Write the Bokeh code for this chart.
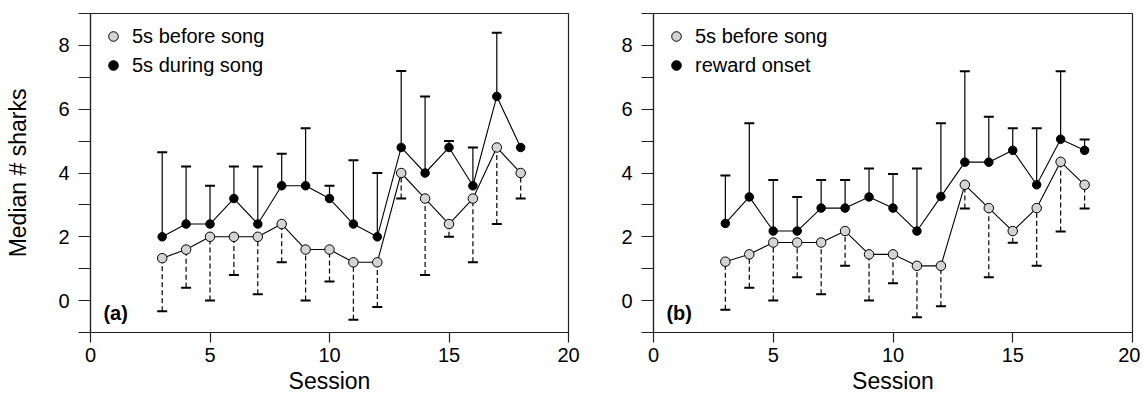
import numpy as np
from bokeh.plotting import figure
from bokeh.layouts import row
from bokeh.models import (ColumnDataSource, Whisker, TeeHead, FixedTicker, Legend,
                          LegendItem, Label, Range1d)
from bokeh.embed import file_html
from bokeh.resources import INLINE

# ---------------- data ----------------
sessions = [3, 4, 5, 6, 7, 8, 9, 10, 11, 12, 13, 14, 15, 16, 17, 18]

# panel (a)
a_before    = [1.33, 1.6, 2.0, 2.0, 2.0, 2.4, 1.6, 1.6, 1.2, 1.2, 4.0, 3.2, 2.4, 3.2, 4.8, 4.0]
a_before_lo = [-0.33, 0.4, 0.0, 0.8, 0.2, 1.2, 0.0, 0.6, -0.6, -0.2, 3.2, 0.8, 2.0, 1.2, 2.4, 3.2]
a_during    = [2.0, 2.4, 2.4, 3.2, 2.4, 3.6, 3.6, 3.2, 2.4, 2.0, 4.8, 4.0, 4.8, 3.6, 6.4, 4.8]
a_during_hi = [4.65, 4.2, 3.6, 4.2, 4.2, 4.6, 5.4, 3.6, 4.4, 4.0, 7.2, 6.4, 5.0, 4.8, 8.4, float("nan")]

# panel (b)
b_before    = [1.22, 1.45, 1.82, 1.82, 1.82, 2.18, 1.45, 1.45, 1.09, 1.09, 3.63, 2.9, 2.18, 2.9, 4.35, 3.63]
b_before_lo = [-0.29, 0.4, 0.0, 0.73, 0.2, 1.09, 0.0, 0.54, -0.52, -0.18, 2.89, 0.73, 1.81, 1.09, 2.17, 2.89]
b_reward    = [2.42, 3.25, 2.18, 2.18, 2.9, 2.9, 3.25, 2.9, 2.18, 3.26, 4.34, 4.34, 4.71, 3.63, 5.06, 4.71]
b_reward_hi = [3.92, 5.56, 3.78, 3.25, 3.78, 3.78, 4.14, 3.97, 4.14, 5.56, 7.19, 5.76, 5.4, 5.4, 7.19, 5.05]

x_ticks = [0, 5, 10, 15, 20]
y_ticks = [0, 2, 4, 6, 8]
y_minor = [-1, 1, 3, 5, 7, 9]

FONT = "Liberation Sans"
GRAY = "#d4d4d4"
DARK = "#222222"


def make_panel(before, before_lo, after, after_hi, label_before, label_after, tag,
               width, border_left, border_right, y_label):
    p = figure(width=width, height=398, output_backend="svg",
               toolbar_location=None, x_range=Range1d(0, 20), y_range=Range1d(-1, 9),
               min_border_left=border_left, min_border_right=border_right,
               min_border_top=13, min_border_bottom=66)
    p.xgrid.visible = False
    p.ygrid.visible = False
    p.outline_line_color = DARK
    p.outline_line_width = 1.2
    p.background_fill_color = "white"
    p.border_fill_color = "white"

    src_b = ColumnDataSource(dict(x=sessions, y=before, lo=before_lo))
    src_a = ColumnDataSource(dict(x=sessions, y=after, hi=np.array(after_hi, dtype=float)))

    wb = Whisker(source=src_b, base="x", lower="lo", upper="y", dimension="height",
                 line_color="black", line_width=1.2, line_dash="5 3",
                 upper_head=None,
                 lower_head=TeeHead(size=10, line_width=2, line_color="black"),
                 level="underlay")
    wa = Whisker(source=src_a, base="x", lower="y", upper="hi", dimension="height",
                 line_color="black", line_width=1.2,
                 lower_head=None,
                 upper_head=TeeHead(size=10, line_width=2, line_color="black"),
                 level="underlay")
    p.add_layout(wb)
    p.add_layout(wa)

    p.line("x", "y", source=src_b, line_color="black", line_width=1.1)
    p.line("x", "y", source=src_a, line_color="black", line_width=1.1)
    rb = p.scatter("x", "y", source=src_b, size=9.5, fill_color=GRAY,
                   line_color="black", line_width=1)
    ra = p.scatter("x", "y", source=src_a, size=8.5, fill_color="black",
                   line_color="black", line_width=1)

    legend = Legend(items=[LegendItem(label=label_before, renderers=[rb]),
                           LegendItem(label=label_after, renderers=[ra])],
                    location="top_left", margin=0, padding=11,
                    glyph_width=24, glyph_height=24, label_height=24,
                    label_standoff=7, spacing=5,
                    border_line_alpha=0, background_fill_alpha=0,
                    label_text_font=FONT, label_text_font_size="20px",
                    label_text_color="black")
    p.add_layout(legend)

    p.add_layout(Label(x=0.54, y=-0.375, text=tag, text_baseline="middle",
                       text_font=FONT, text_font_size="20px", text_font_style="bold",
                       text_color="black"))

    # axes
    p.xaxis.ticker = FixedTicker(ticks=x_ticks)
    p.yaxis.ticker = FixedTicker(ticks=y_ticks, minor_ticks=y_minor)
    for ax in (p.xaxis[0], p.yaxis[0]):
        ax.axis_line_color = DARK
        ax.axis_line_width = 1.2
        ax.major_tick_line_color = DARK
        ax.major_tick_line_width = 1.2
        ax.minor_tick_line_color = DARK
        ax.minor_tick_line_width = 1.2
        ax.major_tick_in = 0
        ax.minor_tick_in = 0
        ax.major_label_text_font = FONT
        ax.major_label_text_font_size = "20px"
        ax.major_label_text_color = "black"
        ax.axis_label_text_font = FONT
        ax.axis_label_text_font_size = "23px"
        ax.axis_label_text_font_style = "normal"
        ax.axis_label_text_color = "black"
    p.xaxis.major_tick_out = 10
    p.xaxis.minor_tick_out = 0
    p.xaxis.major_label_standoff = 5
    p.xaxis.axis_label = "Session"
    p.xaxis.axis_label_standoff = 3
    p.yaxis.major_tick_out = 12
    p.yaxis.minor_tick_out = 12
    p.yaxis.major_label_standoff = 9
    if y_label:
        p.yaxis.axis_label = y_label
        p.yaxis.axis_label_standoff = 24
    return p


pa = make_panel(a_before, a_before_lo, a_during, a_during_hi,
                "5s before song", "5s during song", "(a)", 600, 90, 32, "Median # sharks")
pb = make_panel(b_before, b_before_lo, b_reward, b_reward_hi,
                "5s before song", "reward onset", "(b)", 540, 53, 8, None)

layout = row(pa, pb)
open("out.html", "w").write(file_html(layout, INLINE))
